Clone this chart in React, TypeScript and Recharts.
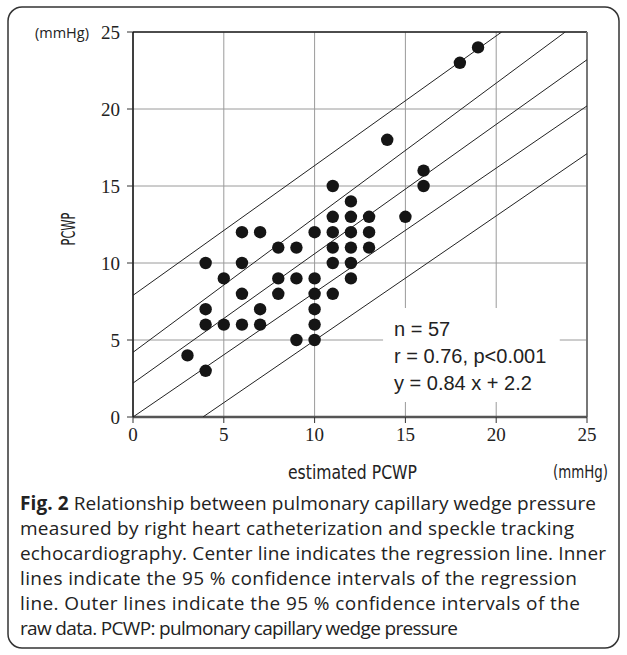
import React from 'react';
import {
  ScatterChart,
  Scatter,
  XAxis,
  YAxis,
  CartesianGrid,
  ReferenceLine,
  ReferenceArea,
} from 'recharts';

const xTicks = [0, 5, 10, 15, 20, 25];
const yTicks = [0, 5, 10, 15, 20, 25];

// estimated PCWP (x) and measured PCWP (y) for each visible dot
const estimatedPcwp = [
  3, 4, 4, 4, 4, 5, 5, 6, 6, 6, 6, 7, 7, 7, 8, 8, 8, 9, 9, 9, 10, 10, 10, 10, 10, 10,
  11, 11, 11, 11, 11, 11, 12, 12, 12, 12, 12, 12, 13, 13, 13, 14, 15, 16, 16, 18, 19,
];
const measuredPcwp = [
  4, 10, 7, 6, 3, 9, 6, 12, 10, 8, 6, 12, 7, 6, 11, 9, 8, 11, 9, 5, 12, 9, 8, 7, 6, 5,
  15, 13, 12, 11, 10, 8, 14, 13, 12, 11, 10, 9, 13, 12, 11, 18, 13, 16, 15, 23, 24,
];
const points = estimatedPcwp.map((x, i) => ({ x, y: measuredPcwp[i] }));

const outerUpper = [{ x: 0, y: 7.9 }, { x: 20.3, y: 25 }];
const innerUpper = [{ x: 0, y: 4.2 }, { x: 23.8, y: 25 }];
const regression = [{ x: 0, y: 2.2 }, { x: 25, y: 23.2 }];
const innerLower = [{ x: 0, y: 0 }, { x: 25, y: 20.2 }];
const outerLower = [{ x: 3.85, y: 0 }, { x: 25, y: 17.1 }];
const fitLines = [outerUpper, innerUpper, regression, innerLower, outerLower];

const statLines = ['n = 57', 'r = 0.76, p<0.001', 'y = 0.84 x + 2.2'];

const captionLines: { text: string; len: number }[] = [
  { text: ' Relationship between pulmonary capillary wedge pressure', len: 576 },
  { text: 'measured by right heart catheterization and speckle tracking', len: 554 },
  { text: 'echocardiography. Center line indicates the regression line. Inner', len: 586 },
  { text: 'lines indicate the 95 % confidence intervals of the regression', len: 557 },
  { text: 'line. Outer lines indicate the 95 % confidence intervals of the', len: 560 },
  { text: 'raw data. PCWP: pulmonary capillary wedge pressure', len: 438 },
];

const Dot = (props: any) => (
  <circle cx={props.cx} cy={props.cy} r={6.2} fill="#151515" />
);
const NoDot = () => <g />;

const serifStyle = { fontFamily: "'Liberation Serif', 'DejaVu Serif', serif", fontSize: '19px' };
const gothicStyle = { fontFamily: "'DejaVu Sans', sans-serif", fontSize: '19px' };
const captionStyle = { fontFamily: "'Open Sans', sans-serif", fontSize: '19px' };
const statStyle = { fontFamily: "'Liberation Sans', sans-serif", fontSize: '20px' };

const XTick = (props: any) => {
  const { x, y, payload } = props;
  return (
    <text x={x} y={y} dy="0.71em" textAnchor="middle" fill="#222" style={serifStyle}>
      {payload.value}
    </text>
  );
};

const YTick = (props: any) => {
  const { x, y, payload } = props;
  return (
    <text x={x} y={y} dy="0.355em" textAnchor="end" fill="#222" style={serifStyle}>
      {payload.value}
    </text>
  );
};

export default function App() {
  return (
    <div style={{ position: 'absolute', left: 0, top: 0, width: 627, height: 655, background: '#fff' }}>
      <ScatterChart
        width={627}
        height={655}
        margin={{ top: 32, right: 40, bottom: 208, left: 73 }}
      >
        <CartesianGrid stroke="#9a9a9a" strokeWidth={1} />
        <XAxis
          type="number"
          dataKey="x"
          domain={[0, 25]}
          ticks={xTicks}
          interval={0}
          allowDataOverflow
          height={30}
          tickSize={6}
          tickMargin={5}
          tick={XTick}
          tickLine={{ stroke: '#333' }}
          axisLine={{ stroke: '#555', strokeWidth: 2.5 }}
        />
        <YAxis
          type="number"
          dataKey="y"
          domain={[0, 25]}
          ticks={yTicks}
          interval={0}
          allowDataOverflow
          width={60}
          tickSize={6}
          tickMargin={7}
          tick={YTick}
          tickLine={{ stroke: '#333' }}
          axisLine={{ stroke: '#111', strokeWidth: 1.5 }}
        />
        <ReferenceArea
          x1={13.77}
          x2={23.5}
          y1={0.97}
          y2={7.08}
          fill="#fff"
          fillOpacity={1}
          stroke="none"
        />
        <ReferenceLine y={25} stroke="#222" strokeWidth={1.5} />
        <ReferenceLine x={25} stroke="#777" strokeWidth={2} />
        {fitLines.map((d, i) => (
          <Scatter
            key={i}
            data={d}
            line={{ stroke: '#222', strokeWidth: 1 }}
            shape={NoDot}
            isAnimationActive={false}
            legendType="none"
          />
        ))}
        <Scatter data={points} shape={Dot} isAnimationActive={false} legendType="none" />
      </ScatterChart>
      <svg
        width={627}
        height={655}
        style={{ position: 'absolute', left: 0, top: 0, pointerEvents: 'none' }}
      >
        <rect x={8} y={7} width={611} height={641} rx={14} ry={14} fill="none" stroke="#333" strokeWidth={1.5} />
        <text x={35} y={32} dominantBaseline="central" fill="#222" style={{ fontFamily: "'Open Sans', sans-serif", fontSize: '14.5px' }}>
          (mmHg)
        </text>
        <text
          x={68}
          y={229}
          transform="rotate(-90 68 229)"
          textAnchor="middle"
          dominantBaseline="central"
          fill="#222"
          style={gothicStyle}
          textLength={33}
          lengthAdjust="spacingAndGlyphs"
        >
          PCWP
        </text>
        <text
          x={288}
          y={472}
          dominantBaseline="central"
          fill="#222"
          style={gothicStyle}
          textLength={129}
          lengthAdjust="spacingAndGlyphs"
        >
          estimated PCWP
        </text>
        <text
          x={553}
          y={472}
          dominantBaseline="central"
          fill="#222"
          style={{ ...gothicStyle, fontSize: '17px' }}
          textLength={55}
          lengthAdjust="spacingAndGlyphs"
        >
          (mmHg)
        </text>
        {statLines.map((t, i) => (
          <text key={t} x={394} y={329 + i * 27} dominantBaseline="central" fill="#222" style={statStyle}>
            {t}
          </text>
        ))}
        {captionLines.map((l, i) => (
          <text
            key={i}
            x={20}
            y={503 + i * 25}
            dominantBaseline="central"
            fill="#222"
            style={captionStyle}
            textLength={l.len}
            lengthAdjust="spacing"
          >
            {i === 0 ? <tspan fontWeight="bold">Fig. 2</tspan> : null}
            {l.text}
          </text>
        ))}
      </svg>
    </div>
  );
}
